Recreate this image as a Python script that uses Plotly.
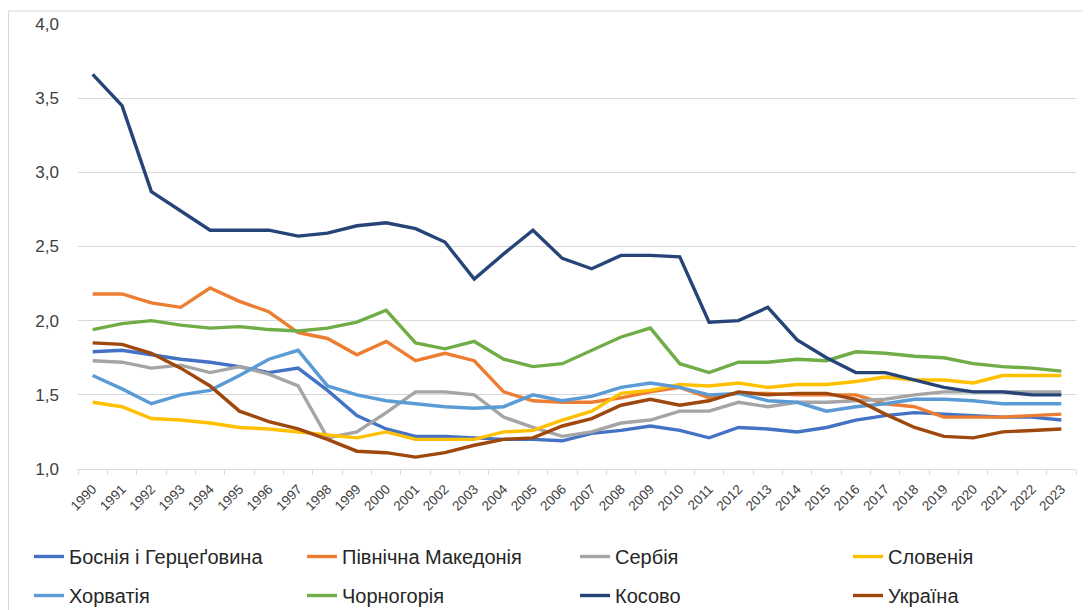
import plotly.graph_objects as go

years = [str(y) for y in range(1990, 2024)]

bosnia = [1.79, 1.80, 1.77, 1.74, 1.72, 1.69, 1.65, 1.68, 1.53, 1.36,
          1.27, 1.22, 1.22, 1.21, 1.20, 1.20, 1.19, 1.24, 1.26, 1.29,
          1.26, 1.21, 1.28, 1.27, 1.25, 1.28, 1.33, 1.36, 1.38, 1.37,
          1.36, 1.35, 1.35, 1.33]
macedonia = [2.18, 2.18, 2.12, 2.09, 2.22, 2.13, 2.06, 1.92, 1.88, 1.77,
             1.86, 1.73, 1.78, 1.73, 1.52, 1.46, 1.45, 1.45, 1.48, 1.52,
             1.55, 1.48, 1.51, 1.51, 1.50, 1.50, 1.50, 1.44, 1.42, 1.35,
             1.35, 1.35, 1.36, 1.37]
serbia = [1.73, 1.72, 1.68, 1.70, 1.65, 1.69, 1.64, 1.56, 1.21, 1.25,
          1.38, 1.52, 1.52, 1.50, 1.35, 1.28, 1.22, 1.25, 1.31, 1.33,
          1.39, 1.39, 1.45, 1.42, 1.45, 1.45, 1.46, 1.47, 1.50, 1.52,
          1.52, 1.52, 1.52, 1.52]
slovenia = [1.45, 1.42, 1.34, 1.33, 1.31, 1.28, 1.27, 1.25, 1.23, 1.21,
            1.25, 1.20, 1.20, 1.20, 1.25, 1.26, 1.33, 1.39, 1.51, 1.53,
            1.57, 1.56, 1.58, 1.55, 1.57, 1.57, 1.59, 1.62, 1.60, 1.60,
            1.58, 1.63, 1.63, 1.63]
croatia = [1.63, 1.54, 1.44, 1.50, 1.53, 1.63, 1.74, 1.80, 1.56, 1.50,
           1.46, 1.44, 1.42, 1.41, 1.42, 1.50, 1.46, 1.49, 1.55, 1.58,
           1.55, 1.50, 1.51, 1.46, 1.45, 1.39, 1.42, 1.44, 1.47, 1.47,
           1.46, 1.44, 1.44, 1.44]
montenegro = [1.94, 1.98, 2.00, 1.97, 1.95, 1.96, 1.94, 1.93, 1.95, 1.99,
              2.07, 1.85, 1.81, 1.86, 1.74, 1.69, 1.71, 1.80, 1.89, 1.95,
              1.71, 1.65, 1.72, 1.72, 1.74, 1.73, 1.79, 1.78, 1.76, 1.75,
              1.71, 1.69, 1.68, 1.66]
kosovo = [3.66, 3.45, 2.87, 2.74, 2.61, 2.61, 2.61, 2.57, 2.59, 2.64,
          2.66, 2.62, 2.53, 2.28, 2.45, 2.61, 2.42, 2.35, 2.44, 2.44,
          2.43, 1.99, 2.00, 2.09, 1.87, 1.75, 1.65, 1.65, 1.60, 1.55,
          1.52, 1.52, 1.50, 1.50]
ukraine = [1.85, 1.84, 1.78, 1.68, 1.56, 1.39, 1.32, 1.27, 1.20, 1.12,
           1.11, 1.08, 1.11, 1.16, 1.20, 1.21, 1.29, 1.34, 1.43, 1.47,
           1.43, 1.46, 1.52, 1.50, 1.51, 1.51, 1.47, 1.37, 1.28, 1.22,
           1.21, 1.25, 1.26, 1.27]

series = [
    ("Боснія і Герцеґовина", bosnia, "#4472C4", "legend"),
    ("Північна Македонія", macedonia, "#ED7D31", "legend2"),
    ("Сербія", serbia, "#A5A5A5", "legend3"),
    ("Словенія", slovenia, "#FFC000", "legend4"),
    ("Хорватія", croatia, "#5B9BD5", "legend"),
    ("Чорногорія", montenegro, "#70AD47", "legend2"),
    ("Косово", kosovo, "#264478", "legend3"),
    ("Україна", ukraine, "#9E480E", "legend4"),
]

fig = go.Figure()
for i, (name, vals, color, leg) in enumerate(series):
    fig.add_trace(go.Scatter(
        x=years, y=vals, mode="lines", name=name,
        line=dict(color=color, width=3.4),
        legend=leg, legendgroup="g%d" % i,
    ))

# page has an 8px body margin: figure is drawn offset by 8px
OFF = 8
PAGE_W, PAGE_H = 1091, 610
W, H = PAGE_W - OFF, PAGE_H - OFF
# plot area in page pixels: left 78, right 1076, top 24, bottom 469
ml = 78 - OFF
mt = 24 - OFF
mr = PAGE_W - 1076
mb = PAGE_H - 469
pw, ph = W - ml - mr, H - mt - mb

def px_x(p):  # page px -> paper x
    return (p - OFF - ml) / pw

def px_y(p):  # page px -> paper y
    return (H - mb - (p - OFF)) / ph

legend_font = dict(family="Liberation Sans, Arial", size=20, color="#262626")
leg_common = dict(orientation="v", xanchor="left", yanchor="top", font=legend_font,
                  tracegroupgap=10, bgcolor="rgba(0,0,0,0)", itemwidth=30)
col_px = [29, 302, 575, 848]
legends = {}
for k, name in enumerate(["legend", "legend2", "legend3", "legend4"]):
    legends[name] = dict(leg_common, x=px_x(col_px[k]), y=px_y(537))

fig.update_layout(
    width=W, height=H,
    margin=dict(l=ml, r=mr, t=mt, b=mb, autoexpand=False),
    paper_bgcolor="white", plot_bgcolor="white",
    separators=", ",
    font=dict(family="Liberation Sans, Arial", color="#404040"),
    xaxis=dict(
        type="category", tickson="boundaries", ticks="outside", ticklen=5,
        tickcolor="#D9D9D9", showline=True, linecolor="#D9D9D9", linewidth=1,
        showgrid=False, tickangle=-45, tickfont=dict(size=13.5, color="#404040"),
        ticklabelstandoff=6,
        range=[-0.5, len(years) - 0.5], automargin=False,
    ),
    yaxis=dict(
        range=[1, 4], dtick=0.5, tickformat=".1f", showgrid=True,
        gridcolor="#D9D9D9", gridwidth=1, zeroline=False, showline=False,
        tickfont=dict(size=17, color="#404040"), ticks="", ticklabelstandoff=18,
        automargin=False,
    ),
    shapes=[dict(type="rect", xref="paper", yref="paper",
                 x0=px_x(OFF + 0.5), x1=px_x(1110), y0=px_y(640), y1=px_y(11),
                 line=dict(color="#D9D9D9", width=1), layer="below")],
    **legends,
)

fig.write_html("out.html")
